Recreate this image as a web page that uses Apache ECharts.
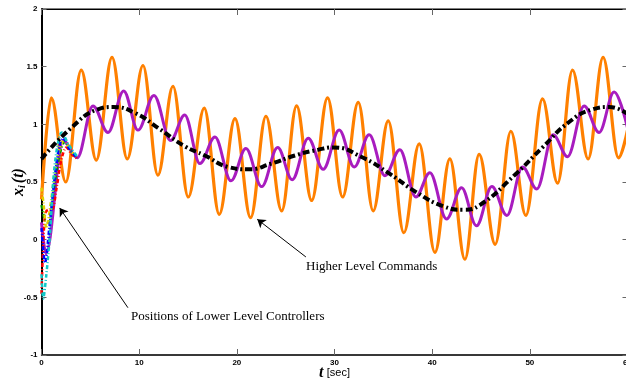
<!DOCTYPE html>
<html>
<head>
<meta charset="utf-8">
<script src="https://cdn.jsdelivr.net/npm/echarts@6/dist/echarts.min.js"></script>
<style>html,body{margin:0;padding:0;background:#fff;}#c{width:626px;height:385px;}</style>
</head>
<body>
<div id="c"></div>
<script>
// Higher level command (black dash-dot)
const cmdT = [0,3.05,5.78,7.32,9.54,11.92,14.66,16.73,19.12,21.17,23.56,25.95,28.33,29.87,32.94,35.67,38.40,41.13,43.17,44.88,48.57,51.30,54.02,56.42,58.12,60];
const cmdV = [0.70,0.97,1.13,1.15,1.10,0.97,0.81,0.73,0.63,0.61,0.66,0.73,0.78,0.80,0.71,0.57,0.41,0.29,0.26,0.30,0.57,0.80,1.02,1.13,1.15,1.09];
// Orange oscillating command (extrema)
const orangeT = [0,1.00,2.48,4.07,5.61,7.22,8.78,10.39,11.92,13.46,15.03,16.66,18.20,19.81,21.41,22.98,24.59,26.12,27.66,29.29,30.83,32.43,33.96,35.50,37.10,38.67,40.28,41.81,43.35,44.81,46.45,48.06,49.59,51.30,52.84,54.37,55.97,57.50,59.08,60];
const orangeV = [0.35,1.23,0.50,1.47,0.69,1.58,0.70,1.51,0.56,1.33,0.37,1.14,0.22,1.05,0.19,1.07,0.25,1.16,0.34,1.23,0.37,1.19,0.25,1.03,0.06,0.83,-0.11,0.70,-0.17,0.74,-0.04,0.94,0.21,1.22,0.49,1.47,0.70,1.58,0.71,0.95];
// Lower level controller position (magenta, extrema)
const purpleT = [0,0.45,2.23,3.66,5.27,6.81,8.41,9.88,11.51,13.22,14.66,16.22,17.76,19.40,20.93,22.54,24.18,25.67,27.31,28.84,30.48,32.02,33.55,35.16,36.69,38.33,39.76,41.47,43.01,44.54,46.11,47.65,49.25,50.72,52.38,53.86,55.56,57.09,58.63,60];
const purpleV = [0.15,-0.12,0.86,0.71,1.16,0.93,1.29,0.95,1.25,0.86,1.08,0.66,0.89,0.51,0.79,0.46,0.80,0.52,0.88,0.61,0.95,0.63,0.91,0.555,0.78,0.37,0.58,0.18,0.45,0.12,0.46,0.21,0.63,0.44,0.91,0.72,1.16,0.93,1.28,0.97];
// Other lower level controllers (initial transients)
const redT = [0,0.35,0.7,1.07,1.55,2.0,2.54,3.1,3.66];
const redV = [-0.47,0.22,0.26,0.26,0.45,0.68,0.80,0.74,0.70];
const cyanT = [0,0.18,0.5,0.87,1.2,1.6,2.07,2.8,3.66];
const cyanV = [-0.3,-0.51,-0.3,0.05,0.51,0.8,0.93,0.82,0.72];
const blueT = [0,0.36,0.8,1.3,1.8,2.2,2.9,3.66];
const blueV = [0.1,-0.2,0.1,0.5,0.8,0.88,0.78,0.71];
const greenT = [0,0.36,0.7,1.2,1.8,2.4,3.0,3.66];
const greenV = [0.3,0.17,0.15,0.4,0.72,0.85,0.77,0.71];
const yellowT = [0,0.2,0.5,1.0,1.6,2.3,3.0,3.66];
const yellowV = [0.45,0.32,0.1,0.35,0.7,0.86,0.77,0.71];
// Axis ticks
const xTicks = [0,10,20,30,40,50,60];
const yTicks = [-1,-0.5,0,0.5,1,1.5,2];
// Annotation arrows (data coords: tail -> tip)
const arrowHigh = [[27.07,-0.15],[22.09,0.177]];
const arrowLow = [[8.85,-0.59],[1.86,0.275]];

const zip = (a,b) => a.map((t,i) => [t,b[i]]);
const labFont = {fontFamily:'Liberation Sans', fontWeight:'bold', fontSize:8, color:'#000'};

const chart = echarts.init(document.getElementById('c'), null, {renderer:'canvas'});
const trans = (name, T, V, color) => ({
  name, type:'line', data: zip(T,V), showSymbol:false, smooth:0.3, z:4,
  lineStyle:{color, width:2.5, type:[4,2,1,2]}, silent:true, animation:false
});
chart.setOption({
  animation:false,
  grid:{left:41.5, top:9, width:586, height:346, containLabel:false, outerBoundsMode:'none',
        show:true, borderColor:'#000', borderWidth:1},
  xAxis:[{
    type:'value', min:0, max:60, interval:10, position:'bottom',
    axisLine:{onZero:false, lineStyle:{color:'#222', width:1.5}},
    axisTick:{inside:true, length:6, lineStyle:{color:'#666'}},
    axisLabel:Object.assign({margin:4, formatter: v => xTicks.includes(v) ? String(v) : ''}, labFont),
    splitLine:{show:false},
    name:'{t|t} {s|[sec]}', nameLocation:'middle', nameGap:10, nameMoveOverlap:false,
    nameTextStyle:{rich:{
      t:{fontFamily:'Liberation Serif', fontStyle:'italic', fontWeight:'bold', fontSize:16, color:'#000'},
      s:{fontFamily:'Liberation Sans', fontSize:11, color:'#000'}
    }}
  },{
    type:'value', min:0, max:60, interval:10, position:'top',
    axisLine:{show:true, onZero:false, lineStyle:{color:'#000', width:1}},
    axisTick:{inside:true, length:6, lineStyle:{color:'#666'}},
    axisLabel:{show:false}, splitLine:{show:false}
  }],
  yAxis:[{
    type:'value', min:-1, max:2, interval:0.5, position:'left',
    axisLine:{show:true, onZero:false, lineStyle:{color:'#000', width:2}},
    axisTick:{inside:true, length:5, lineStyle:{color:'#666'}},
    axisLabel:Object.assign({margin:4, formatter: v => yTicks.includes(v) ? String(v) : ''}, labFont),
    splitLine:{show:false},
    name:'{x|x}{i|i}{p|(t)}', nameLocation:'middle', nameGap:14, nameRotate:90, nameMoveOverlap:false,
    nameTextStyle:{rich:{
      x:{fontFamily:'Liberation Serif', fontStyle:'italic', fontWeight:'bold', fontSize:16, color:'#000'},
      i:{fontFamily:'Liberation Serif', fontStyle:'italic', fontWeight:'bold', fontSize:10, color:'#000', padding:[7,2,0,0]},
      p:{fontFamily:'Liberation Serif', fontStyle:'italic', fontWeight:'bold', fontSize:16, color:'#000'}
    }}
  },{
    type:'value', min:-1, max:2, interval:0.5, position:'right',
    axisLine:{show:true, onZero:false, lineStyle:{color:'#000'}},
    axisTick:{inside:true, length:5, lineStyle:{color:'#666'}},
    axisLabel:{show:false}, splitLine:{show:false}
  }],
  series:[
    {name:'orange', type:'line', data:zip(orangeT,orangeV), showSymbol:false, smooth:0.36, smoothMonotone:'x', z:2,
     lineStyle:{color:'#ff8000', width:3.2}, silent:true},
    {name:'controller', type:'line', data:zip(purpleT,purpleV), showSymbol:false, smooth:0.36, smoothMonotone:'x', z:3,
     lineStyle:{color:'#a81cbf', width:3}, silent:true},
    trans('red', redT, redV, '#ff0000'),
    trans('green', greenT, greenV, '#009900'),
    trans('yellow', yellowT, yellowV, '#e0d000'),
    trans('blue', blueT, blueV, '#0000ff'),
    trans('cyan', cyanT, cyanV, '#10c8c8'),
    {name:'command', type:'line', data:zip(cmdT,cmdV), showSymbol:false, smooth:0.5, z:5,
     lineStyle:{color:'#000', width:4, type:[7,3,2,3]}, silent:true,
     markLine:{silent:true, symbol:['none','arrow'], symbolSize:8, animation:false,
       lineStyle:{color:'#000', width:1, type:'solid'}, label:{show:false},
       data:[
         [{coord:arrowHigh[0]},{coord:arrowHigh[1]}],
         [{coord:arrowLow[0]},{coord:arrowLow[1]}]
       ]}}
  ],
  graphic:[
    {type:'text', left:306, top:260, z:10, style:{text:'Higher Level Commands', font:'13px "Liberation Serif"', fill:'#000'}},
    {type:'text', left:131, top:310, z:10, style:{text:'Positions of Lower Level Controllers', font:'13px "Liberation Serif"', fill:'#000'}}
  ]
});
</script>
</body>
</html>
